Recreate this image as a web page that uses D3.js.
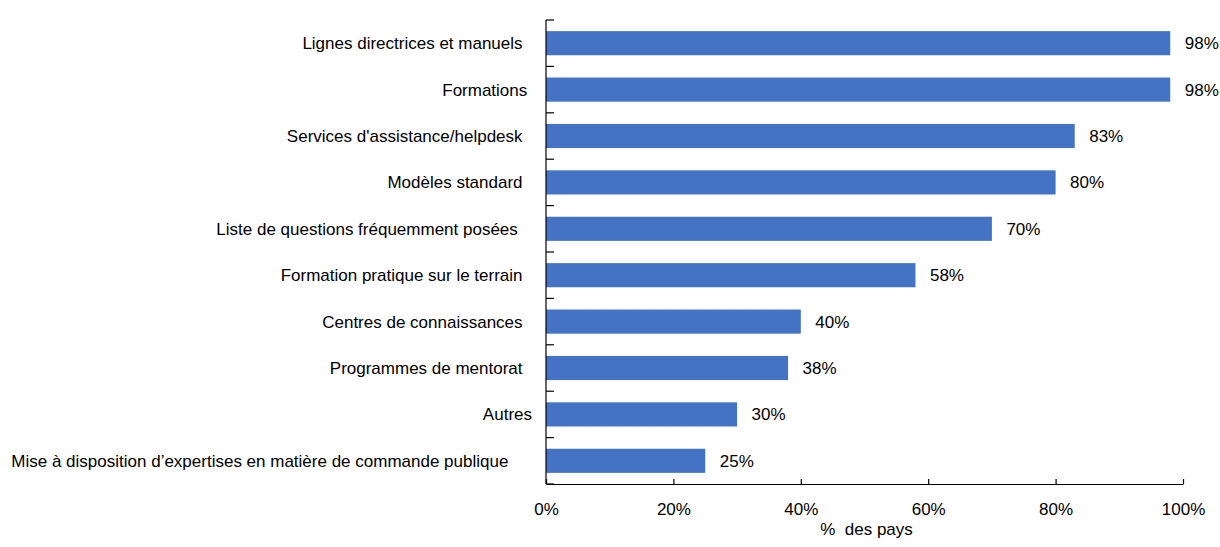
<!DOCTYPE html>
<html>
<head>
<meta charset="utf-8">
<script src="https://cdn.jsdelivr.net/npm/d3@7/dist/d3.min.js"></script>
<style>
  html, body { margin: 0; padding: 0; background: #fff; }
  svg { display: block; }
  text { font-family: "Liberation Sans", Arial, sans-serif; fill: #000; white-space: pre; }
</style>
</head>
<body>
<svg id="chart" width="1220" height="547"></svg>
<script>
// Support measures offered, share of countries (%)
const categories = [
  "Lignes directrices et manuels  ",
  "Formations ",
  "Services d'assistance/helpdesk  ",
  "Modèles standard  ",
  "Liste de questions fréquemment posées   ",
  "Formation pratique sur le terrain  ",
  "Centres de connaissances  ",
  "Programmes de mentorat  ",
  "Autres",
  "Mise à disposition d’expertises en matière de commande publique     "
];
const values = [98, 98, 83, 80, 70, 58, 40, 38, 30, 25];
const xTicks = [0, 20, 40, 60, 80, 100];
const xTitle = "%  des pays";

const svg = d3.select("#chart");
const plotLeft = 546, plotRight = 1183, plotTop = 20, plotBottom = 484;

const x = d3.scaleLinear().domain([0, 100]).range([plotLeft, plotRight]);
const y = d3.scaleBand()
  .domain(categories)
  .range([plotTop, plotBottom])
  .paddingInner(0.48)
  .paddingOuter(0.24);

// Bars
svg.append("g").selectAll("rect")
  .data(values)
  .join("rect")
  .attr("x", x(0))
  .attr("y", (d, i) => y(categories[i]))
  .attr("width", d => x(d) - x(0))
  .attr("height", y.bandwidth())
  .attr("fill", "#4472C4");

// Value labels
svg.append("g").selectAll("text")
  .data(values)
  .join("text")
  .attr("x", d => x(d) + 14.5)
  .attr("y", (d, i) => y(categories[i]) + y.bandwidth() / 2)
  .attr("dy", "0.35em")
  .attr("font-size", 17)
  .text(d => d + "%");

// Category labels
svg.append("g").selectAll("text")
  .data(categories)
  .join("text")
  .attr("x", 532)
  .attr("y", d => y(d) + y.bandwidth() / 2)
  .attr("dy", "0.35em")
  .attr("text-anchor", "end")
  .attr("font-size", 17)
  .text(d => d);

// Vertical axis with ticks on category boundaries
const step = y.step();
const boundaries = d3.range(categories.length + 1).map(i => plotTop + i * step);
const yAxis = svg.append("g").attr("stroke", "#000").attr("stroke-width", 1.2);
yAxis.append("line")
  .attr("x1", plotLeft).attr("x2", plotLeft)
  .attr("y1", plotTop).attr("y2", plotBottom);
yAxis.selectAll("line.tick")
  .data(boundaries)
  .join("line")
  .attr("class", "tick")
  .attr("x1", plotLeft).attr("x2", plotLeft + 8)
  .attr("y1", d => d).attr("y2", d => d);

// Horizontal axis
const xAxis = svg.append("g")
  .attr("transform", `translate(0,${plotBottom})`)
  .call(d3.axisBottom(x).tickValues(xTicks).tickSize(0).tickFormat(d => d + "%"));
xAxis.select(".domain").attr("stroke", "#000").attr("stroke-width", 1.2);
xAxis.selectAll(".tick text")
  .attr("font-size", 17)
  .attr("font-family", "Liberation Sans, Arial, sans-serif")
  .attr("fill", "#000")
  .attr("y", 31)
  .attr("dy", 0);
xAxis.selectAll(".tick")
  .append("line")
  .attr("y1", 0).attr("y2", -5)
  .attr("stroke", "#000").attr("stroke-width", 1.2);

// Axis title
svg.append("text")
  .attr("x", (plotLeft + plotRight) / 2 + 2)
  .attr("y", 535)
  .attr("text-anchor", "middle")
  .attr("font-size", 17)
  .text(xTitle);
</script>
</body>
</html>
